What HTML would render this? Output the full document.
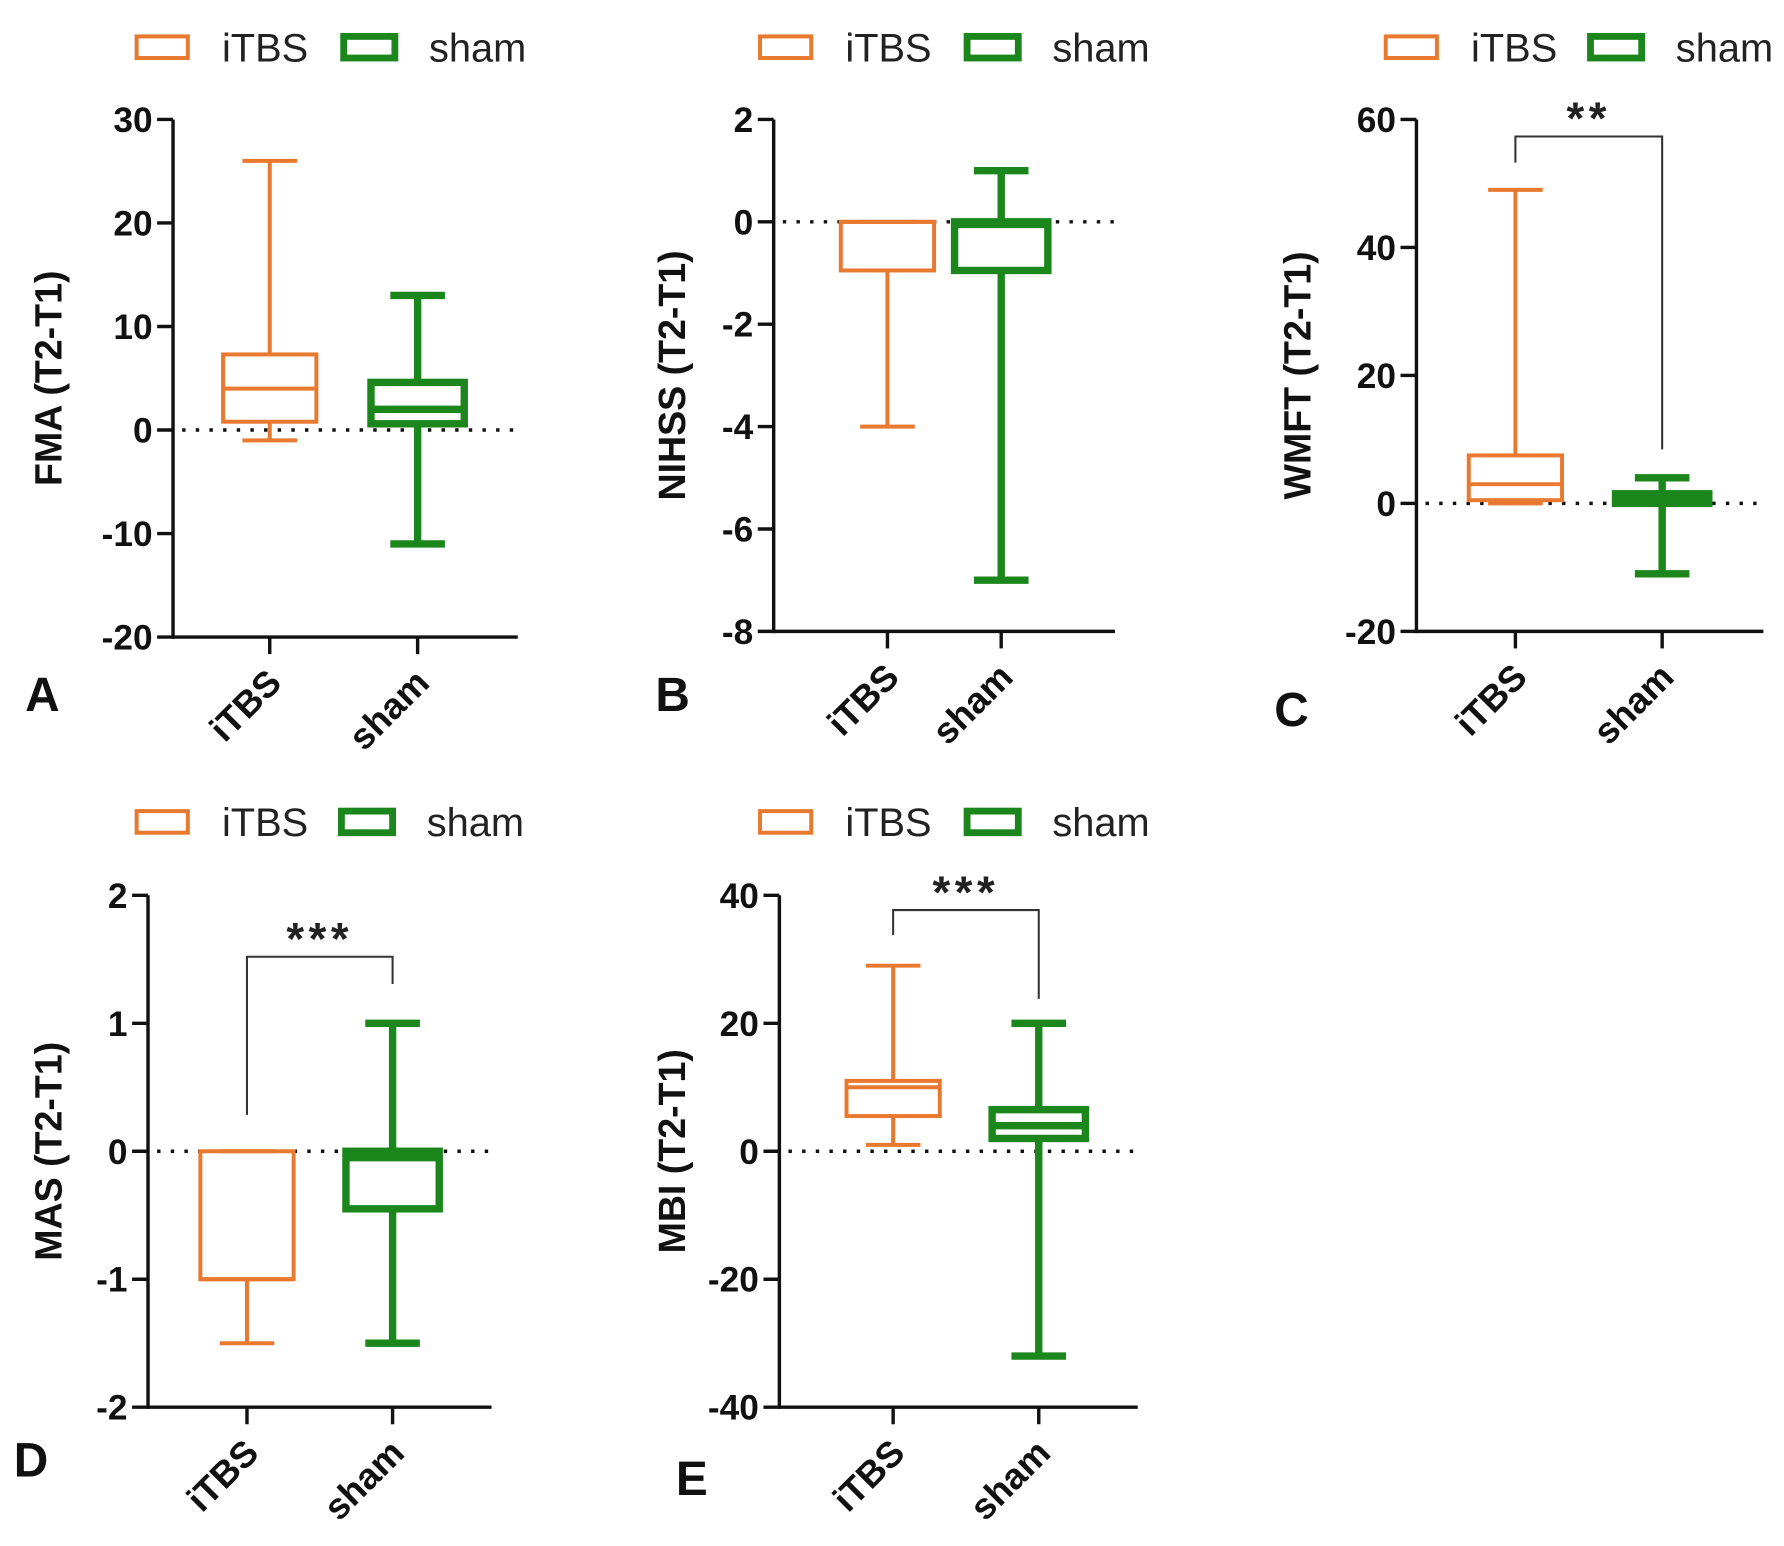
<!DOCTYPE html>
<html><head><meta charset="utf-8"><style>
html,body{margin:0;padding:0;background:#fff}
svg{display:block}
text{font-family:"Liberation Sans",Arial,sans-serif}
</style></head><body>
<svg id="fig" width="1784" height="1546" viewBox="0 0 1568 1359" xmlns="http://www.w3.org/2000/svg"></svg>
<script>
const categories = ["iTBS", "sham"];
// [min, Q1, median, Q3, max] per group
const fmaITBS = [-1, 0.8, 4, 7.3, 26];
const fmaSham = [-11, 0.6, 2, 4.6, 13];
const nihssITBS = [-4, -0.95, 0, 0, 0];
const nihssSham = [-7, -0.95, -0.05, 0, 1];
const wmftITBS = [0, 0.5, 3, 7.5, 49];
const wmftSham = [-11, 0, 0.7, 1.5, 4];
const masITBS = [-1.5, -1, -1, 0, 0];
const masSham = [-1.5, -0.45, -0.05, 0, 1];
const mbiITBS = [1, 5.5, 10, 11, 29];
const mbiSham = [-32, 2, 4, 6.5, 20];
const fmaTicks = [30, 20, 10, 0, -10, -20];
const nihssTicks = [2, 0, -2, -4, -6, -8];
const wmftTicks = [60, 40, 20, 0, -20];
const masTicks = [2, 1, 0, -1, -2];
const mbiTicks = [40, 20, 0, -20, -40];

const NS = "http://www.w3.org/2000/svg";
const svg = document.getElementById("fig");
const OR = "#E8792F", GR = "#1B861B";
function mk(tag, attrs, parent) {
  const e = document.createElementNS(NS, tag);
  for (const k in attrs) e.setAttribute(k, attrs[k]);
  (parent || svg).appendChild(e);
  return e;
}
function txt(s, attrs, parent) { const e = mk("text", attrs, parent); e.textContent = s; return e; }

const panels = [
  {id:"fma", title:"FMA (T2-T1)", letter:"A", lx:22, ly:625, ax:152, x1:455, yTop:105, yBot:560, ticks:fmaTicks, g:[fmaITBS,fmaSham], cx:[237,367], legY:42, leg:[120,302], titleX:42, sig:null},
  {id:"nihss", title:"NIHSS (T2-T1)", letter:"B", lx:576, ly:625, ax:680, x1:980, yTop:105, yBot:555, ticks:nihssTicks, g:[nihssITBS,nihssSham], cx:[780,880], legY:42, leg:[668,850], titleX:590, sig:null},
  {id:"wmft", title:"WMFT (T2-T1)", letter:"C", lx:1120, ly:638, ax:1245, x1:1550, yTop:105, yBot:555, ticks:wmftTicks, g:[wmftITBS,wmftSham], cx:[1332,1461], legY:42, leg:[1218,1398], titleX:1140, sig:{label:"**", top:120, l:143, r:395}},
  {id:"mas", title:"MAS (T2-T1)", letter:"D", lx:12, ly:1298, ax:130, x1:432, yTop:787, yBot:1237, ticks:masTicks, g:[masITBS,masSham], cx:[217,345], legY:723, leg:[120,300], titleX:42, sig:{label:"***", top:841, l:980, r:865}},
  {id:"mbi", title:"MBI (T2-T1)", letter:"E", lx:594, ly:1314, ax:685, x1:1000, yTop:787, yBot:1237, ticks:mbiTicks, g:[mbiITBS,mbiSham], cx:[785,913], legY:723, leg:[668,850], titleX:590, sig:{label:"***", top:800, l:822, r:878}}
];

panels.forEach(p => {
  const G = mk("g", {});
  
  
  const tmax = Math.max(...p.ticks), tmin = Math.min(...p.ticks);
  const y = v => p.yTop + (tmax - v) / (tmax - tmin) * (p.yBot - p.yTop);

  [0,1].forEach(i => {
    const col = i ? GR : OR, sw = i ? 6 : 3.5;
    const lg = mk("g", {}, G);
    
    
    mk("rect", {x:p.leg[i], y:p.legY-10, width:45, height:19, fill:"none", stroke:col, "stroke-width":sw}, lg);
    txt(categories[i], {x:p.leg[i]+75, y:p.legY+12, "font-size":35, fill:"#222"}, lg);
  });

  const ax = mk("g", {}, G);
  
  
  mk("line", {x1:p.ax, y1:p.yTop, x2:p.ax, y2:p.yBot+1.5, stroke:"#111", "stroke-width":3}, ax);
  p.ticks.forEach(t => {
    mk("line", {x1:p.ax-14, y1:y(t), x2:p.ax, y2:y(t), stroke:"#111", "stroke-width":3}, ax);
    txt(String(t), {x:p.ax-18, y:y(t)+11, "font-size":31, "font-weight":"bold", "text-anchor":"end", fill:"#111"}, ax);
  });
  const xa = mk("g", {}, G);
  
  
  mk("line", {x1:p.ax, y1:p.yBot, x2:p.x1, y2:p.yBot, stroke:"#111", "stroke-width":3}, xa);
  p.cx.forEach((c,i) => {
    mk("line", {x1:c, y1:p.yBot, x2:c, y2:p.yBot+15, stroke:"#111", "stroke-width":3}, xa);
    txt(categories[i], {x:c+12, y:p.yBot+42, "font-size":32, "font-weight":"bold", "text-anchor":"end", fill:"#111", transform:`rotate(-45 ${c+12} ${p.yBot+42})`}, xa);
  });
  const yt = txt(p.title, {x:p.titleX+12, y:(p.yTop+p.yBot)/2, "font-size":33, "font-weight":"bold", "text-anchor":"middle", fill:"#111", transform:`rotate(-90 ${p.titleX+12} ${(p.yTop+p.yBot)/2})`}, G);
  
  
  const lt = txt(p.letter, {x:p.lx, y:p.ly, "font-size":42, "font-weight":"bold", fill:"#111"}, G);
  
  

  const zl = mk("line", {x1:p.ax+8, y1:y(0), x2:p.x1, y2:y(0), stroke:"#111", "stroke-width":3, "stroke-dasharray":"3 9"}, G);
  
  

  p.g.forEach((d,i) => {
    const col = i ? GR : OR, sw = i ? 6.5 : 3.5, c = p.cx[i];
    const bg = mk("g", {stroke:col, "stroke-width":sw, fill:"none"}, G);
    
    
    const hw = 41, cw = 24;
    mk("line", {x1:c, y1:y(d[4]), x2:c, y2:y(d[3])}, bg);
    mk("line", {x1:c, y1:y(d[1]), x2:c, y2:y(d[0])}, bg);
    mk("line", {x1:c-cw, y1:y(d[4]), x2:c+cw, y2:y(d[4])}, bg);
    mk("line", {x1:c-cw, y1:y(d[0]), x2:c+cw, y2:y(d[0])}, bg);
    mk("rect", {x:c-hw, y:y(d[3]), width:2*hw, height:Math.max(0.5, y(d[1])-y(d[3]))}, bg);
    mk("line", {x1:c-hw, y1:y(d[2]), x2:c+hw, y2:y(d[2])}, bg);
  });

  if (p.sig) {
    const s = mk("g", {}, G);
    
    
    mk("polyline", {points:`${p.cx[0]},${p.sig.l} ${p.cx[0]},${p.sig.top} ${p.cx[1]},${p.sig.top} ${p.cx[1]},${p.sig.r}`, fill:"none", stroke:"#333", "stroke-width":1.8}, s);
    txt(p.sig.label, {x:(p.cx[0]+p.cx[1])/2, y:p.sig.top-2, "font-size":40, "font-weight":"bold", "text-anchor":"middle", fill:"#222", "letter-spacing":"4"}, s);
  }
});
</script>
</body></html>
